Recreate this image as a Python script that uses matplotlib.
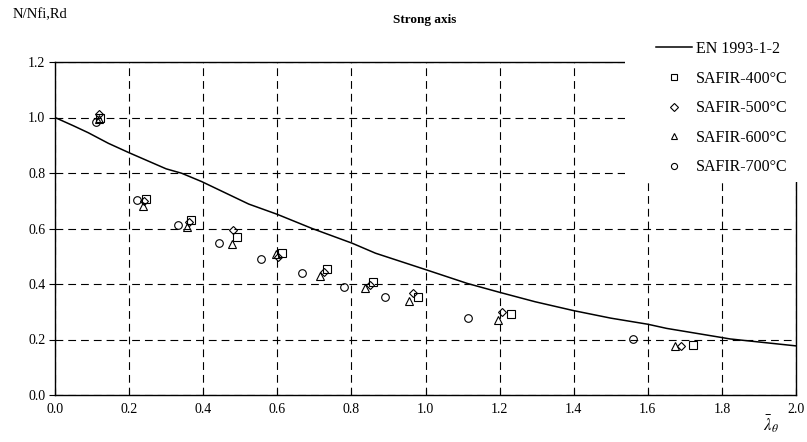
import matplotlib
matplotlib.use("Agg")
import matplotlib.pyplot as plt
from matplotlib.patches import Rectangle

plt.rcParams["font.family"] = ["Liberation Serif", "DejaVu Serif"]
plt.rcParams["mathtext.fontset"] = "stix"

# EN 1993-1-2 buckling curve (non-dimensional slenderness vs reduction factor)
en_lambda = [0.0, 0.05, 0.09, 0.144, 0.2, 0.3, 0.342, 0.396, 0.523, 0.6, 0.694,
             0.802, 0.865, 1.0, 1.113, 1.2, 1.296, 1.4, 1.5, 1.6, 1.651, 1.8,
             1.822, 2.0]
en_chi = [1.0, 0.970, 0.945, 0.907, 0.873, 0.815, 0.799, 0.769, 0.688, 0.651,
          0.600, 0.547, 0.511, 0.452, 0.402, 0.370, 0.336, 0.304, 0.277, 0.255,
          0.240, 0.207, 0.202, 0.177]

# SAFIR results
lam_400 = [0.121, 0.245, 0.366, 0.490, 0.613, 0.735, 0.857, 0.981, 1.231, 1.721]
chi_400 = [0.997, 0.706, 0.630, 0.570, 0.511, 0.454, 0.406, 0.354, 0.292, 0.179]

lam_500 = [0.120, 0.240, 0.363, 0.480, 0.603, 0.726, 0.850, 0.965, 1.207, 1.690]
chi_500 = [1.012, 0.700, 0.625, 0.595, 0.498, 0.444, 0.395, 0.366, 0.299, 0.177]

lam_600 = [0.119, 0.238, 0.357, 0.478, 0.597, 0.715, 0.837, 0.955, 1.197, 1.673]
chi_600 = [0.995, 0.681, 0.604, 0.544, 0.507, 0.429, 0.384, 0.340, 0.270, 0.177]

lam_700 = [0.111, 0.222, 0.331, 0.443, 0.556, 0.668, 0.781, 0.891, 1.114, 1.561]
chi_700 = [0.985, 0.703, 0.613, 0.547, 0.490, 0.438, 0.390, 0.354, 0.277, 0.202]

x_ticks = [0.0, 0.2, 0.4, 0.6, 0.8, 1.0, 1.2, 1.4, 1.6, 1.8, 2.0]
y_ticks = [0.0, 0.2, 0.4, 0.6, 0.8, 1.0, 1.2]

W, H = 807, 442
fig = plt.figure(figsize=(W / 100, H / 100), dpi=100)
ax = fig.add_axes([55 / W, 1 - 395 / H, (796 - 55) / W, (395 - 62) / H])

ax.plot(en_lambda, en_chi, color="black", lw=1.1, label="EN 1993-1-2", zorder=3)
mk = dict(linestyle="none", markerfacecolor="none", markeredgecolor="black",
          markeredgewidth=0.8, zorder=4)
ax.plot(lam_400, chi_400, marker="s", markersize=5.5, label="SAFIR-400\u00b0C", **mk)
ax.plot(lam_500, chi_500, marker="D", markersize=4.5, label="SAFIR-500\u00b0C", **mk)
ax.plot(lam_600, chi_600, marker="^", markersize=6, label="SAFIR-600\u00b0C", **mk)
ax.plot(lam_700, chi_700, marker="o", markersize=5.5, label="SAFIR-700\u00b0C", **mk)

ax.set_xlim(0, 2.0)
ax.set_ylim(0, 1.2)
ax.set_xticks(x_ticks)
ax.set_yticks(y_ticks)
ax.set_xticklabels([f"{v:.1f}" for v in x_ticks])
ax.set_yticklabels([f"{v:.1f}" for v in y_ticks])
ax.tick_params(axis="x", direction="in", length=4, width=0.8, labelsize=10, pad=6)
ax.tick_params(axis="y", direction="out", length=4, width=0.8, labelsize=10, pad=3)
ax.grid(True, color="black", lw=0.8, linestyle=(0, (7, 4.5)))
ax.set_axisbelow(True)
for s in ax.spines.values():
    s.set_linewidth(1.0)
    s.set_color("black")

# white backing behind the legend block
ax.add_patch(Rectangle((625 / W, 1 - 182 / H), 182 / W, 154 / H,
                       transform=fig.transFigure, facecolor="white",
                       edgecolor="none", clip_on=False, zorder=8))

fig.text(425 / W, 1 - 20 / H, "Strong axis", ha="center", va="center",
         fontsize=9.5, fontweight="bold")
fig.text(13 / W, 1 - 15 / H, "N/Nfi,Rd", ha="left", va="center", fontsize=10.5)
fig.text(771 / W, 1 - 424 / H, r"$\bar{\lambda}_\theta$", ha="center",
         va="center", fontsize=12)

handles, labels = ax.get_legend_handles_labels()
leg = ax.legend(handles, labels, loc="upper left",
                bbox_to_anchor=(656 / W, 1 - 41 / H), bbox_transform=fig.transFigure,
                frameon=False, fontsize=11.5, handlelength=2.25, handletextpad=0.25,
                labelspacing=0.85, borderpad=0.0, borderaxespad=0.0, markerscale=0.8)
leg.set_zorder(10)

fig.savefig("out.png", dpi=100)
